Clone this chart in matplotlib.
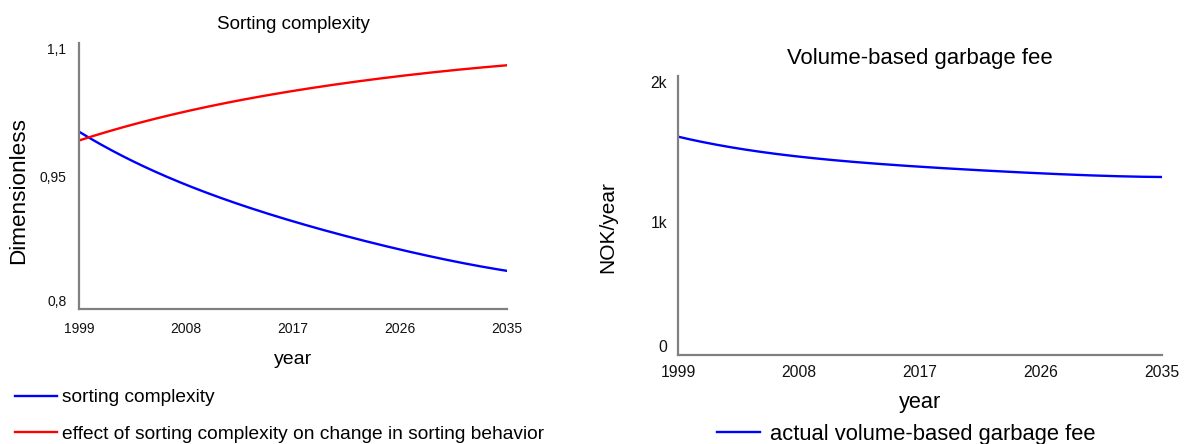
import matplotlib
matplotlib.use("Agg")
import matplotlib.pyplot as plt
import numpy as np

plt.rcParams['font.family'] = ['Liberation Sans', 'DejaVu Sans']

# Data
years = [1999, 2003.5, 2008, 2012.5, 2017, 2021.5, 2026, 2030.5, 2035]
sorting_complexity = [1.000, 0.967, 0.940, 0.918, 0.899, 0.882, 0.867, 0.854, 0.843]
effect_on_behavior = [0.990, 1.008, 1.023, 1.035, 1.046, 1.055, 1.063, 1.069, 1.075]
garbage_fee = [1565, 1481, 1421, 1381, 1350, 1324, 1302, 1285, 1276]

xticks = [1999, 2008, 2017, 2026, 2035]
left_yticks = [0.8, 0.95, 1.1]
left_yticklabels = ["0,8", "0,95", "1,1"]
right_yticks = [0, 1000, 2000]
right_yticklabels = ["0", "1k", "2k"]

def smooth(x, y, n=200):
    xs = np.linspace(x[0], x[-1], n)
    c = np.polyfit(x, y, 4)
    return xs, np.polyval(c, xs)

W, H = 1185, 444
fig = plt.figure(figsize=(W / 100, H / 100), dpi=100)

def style(ax, fs):
    for s in ['top', 'right']:
        ax.spines[s].set_visible(False)
    for s in ['left', 'bottom']:
        ax.spines[s].set_color('#808080')
        ax.spines[s].set_linewidth(1.6)
    ax.tick_params(length=0, labelsize=fs, colors='#111111')
    ax.set_xticks(xticks)
    ax.set_xticklabels([str(t) for t in xticks])
    ax.set_xlim(1999, 2035)

# Left chart
ax1 = fig.add_axes([79 / W, 1 - 309 / H, 428 / W, 266 / H])
style(ax1, 10)
xs, ys = smooth(years, sorting_complexity)
l1, = ax1.plot(xs, ys, color='#0000ff', lw=1.7)
xs, ys = smooth(years, effect_on_behavior)
l2, = ax1.plot(xs, ys, color='#ff0000', lw=1.7)
ax1.set_ylim(0.8, 1.1)
ax1.set_yticks(left_yticks)
ax1.set_yticklabels(left_yticklabels)
yl = ax1.get_yticklabels()
yl[0].set_va('bottom'); yl[-1].set_va('top')
ax1.tick_params(axis='x', pad=9.5)
ax1.tick_params(axis='y', pad=9)
ax1.set_title("Sorting complexity", fontsize=13.5, pad=10)
ax1.set_xlabel("year", fontsize=14, labelpad=11)
ax1.set_ylabel("Dimensionless", fontsize=16.2)
ax1.yaxis.set_label_coords(-0.116, (309 - 191) / 266)

# Right chart
ax2 = fig.add_axes([678 / W, 1 - 355 / H, 484 / W, 279 / H])
style(ax2, 11.3)
xs, ys = smooth(years, garbage_fee)
l3, = ax2.plot(xs, ys, color='#0000ff', lw=1.7)
ax2.set_ylim(0, 2000)
ax2.set_yticks(right_yticks)
ax2.set_yticklabels(right_yticklabels)
yl = ax2.get_yticklabels()
yl[0].set_va('bottom'); yl[1].set_va('top'); yl[2].set_va('top')
ax2.tick_params(axis='x', pad=7)
ax2.tick_params(axis='y', pad=8)
ax2.set_title("Volume-based garbage fee", fontsize=15.9, pad=8.5)
ax2.set_xlabel("year", fontsize=15.7, labelpad=8.5)
ax2.set_ylabel("NOK/year", fontsize=15)
ax2.yaxis.set_label_coords((617 - 678) / 484, (355 - 227) / 279)

fig.legend([l1, l2], ["sorting complexity",
                      "effect of sorting complexity on change in sorting behavior"],
           loc='upper left', bbox_to_anchor=(15 / W, 1 - 389 / H), frameon=False,
           fontsize=13.8, handlelength=2.2, handletextpad=0.26, labelspacing=1.0,
           borderaxespad=0, borderpad=0)
fig.legend([l3], ["actual volume-based garbage fee"],
           loc='upper left', bbox_to_anchor=(717 / W, 1 - 424 / H), frameon=False,
           fontsize=15.8, handlelength=1.95, handletextpad=0.45,
           borderaxespad=0, borderpad=0)

fig.savefig("out.png", dpi=100)
